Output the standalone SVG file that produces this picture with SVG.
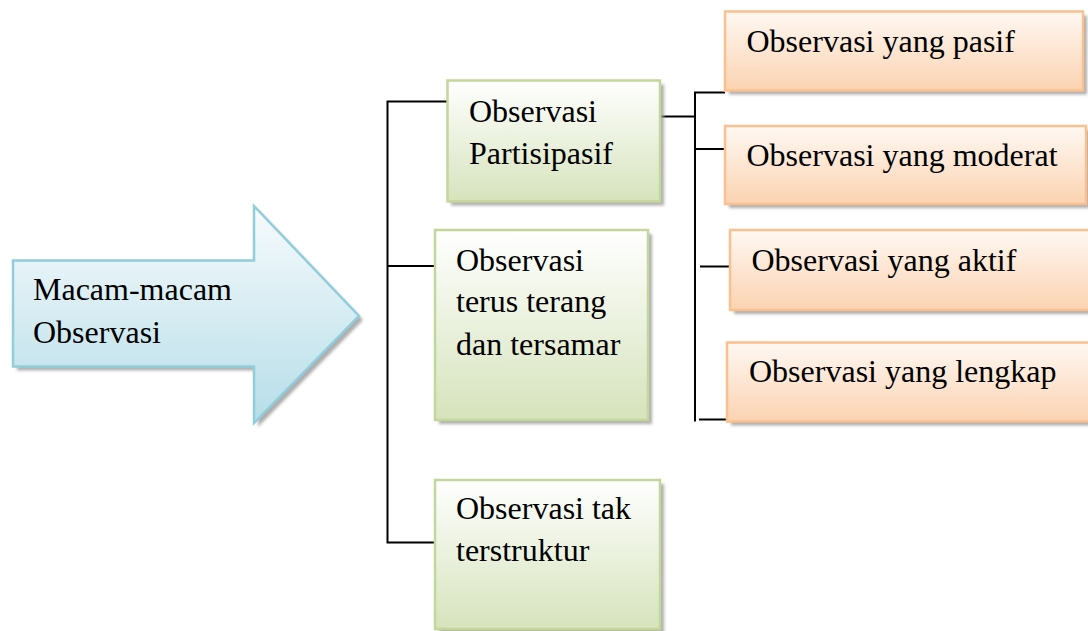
<svg xmlns="http://www.w3.org/2000/svg" width="1088" height="631" viewBox="0 0 1088 631">
<defs>
<linearGradient id="gBlue" x1="0" y1="0" x2="0" y2="1">
<stop offset="0" stop-color="#f7fbfd"/>
<stop offset="1" stop-color="#b6dde8"/>
</linearGradient>
<linearGradient id="gGreen" x1="0" y1="0" x2="0" y2="1">
<stop offset="0" stop-color="#ffffff"/>
<stop offset="1" stop-color="#d6e3bc"/>
</linearGradient>
<linearGradient id="gOrange" x1="0" y1="0" x2="0" y2="1">
<stop offset="0" stop-color="#fff8f3"/>
<stop offset="1" stop-color="#fbd3b1"/>
</linearGradient>
<filter id="blur" x="-10%" y="-10%" width="120%" height="120%">
<feGaussianBlur stdDeviation="1.5"/>
</filter>
</defs>
<style>
text{font-family:"Liberation Serif","Times New Roman",serif;font-size:32px;fill:#000}
.conn{stroke:#000;stroke-width:2;fill:none}
.shadow{fill:#9a9a9a;opacity:0.8;filter:url(#blur)}
.green{fill:url(#gGreen);stroke:#c3d69b;stroke-width:2.5}
.orange{fill:url(#gOrange);stroke:#fac08f;stroke-width:2.5}
.blue{fill:url(#gBlue);stroke:#92cddc;stroke-width:2.5}
</style>
<rect width="1088" height="631" fill="#ffffff"/>

<g id="connectors">
<polyline class="conn" points="447,101.5 387.5,101.5 387.5,542.5 435,542.5"/>
<line class="conn" x1="387.5" y1="266" x2="435" y2="266"/>
<polyline class="conn" points="725,92.5 695,92.5 695,421.5"/>
<line class="conn" x1="660" y1="116.5" x2="695" y2="116.5"/>
<line class="conn" x1="695" y1="149" x2="725" y2="149"/>
<line class="conn" x1="700" y1="266.5" x2="730" y2="266.5"/>
<line class="conn" x1="699" y1="419.5" x2="727" y2="419.5"/>
</g>

<g id="node-macam">
<path class="shadow" d="M17,264.5 L258,264.5 L258,210 L363,320 L258,427 L258,370.5 L17,370.5 Z"/>
<path class="blue" d="M13,260.5 L254,260.5 L254,206 L359,316 L254,423 L254,366.5 L13,366.5 Z"/>
<text x="33" y="300">Macam-macam</text>
<text x="33" y="343">Observasi</text>
</g>

<g id="node-partisipasif">
<rect class="shadow" x="451" y="84.5" width="213" height="121"/>
<rect class="green" x="447.5" y="80.5" width="212.5" height="121"/>
<text x="469" y="121.5">Observasi</text>
<text x="469" y="164">Partisipasif</text>
</g>

<g id="node-terus-terang">
<rect class="shadow" x="439" y="234" width="213" height="190"/>
<rect class="green" x="435" y="230" width="213" height="190"/>
<text x="456" y="270.5">Observasi</text>
<text x="456" y="311.5">terus terang</text>
<text x="456" y="355">dan tersamar</text>
</g>

<g id="node-tak-terstruktur">
<rect class="shadow" x="439" y="484" width="225" height="150"/>
<rect class="green" x="435" y="480" width="225" height="149"/>
<text x="456" y="519">Observasi tak</text>
<text x="456" y="560.5">terstruktur</text>
</g>

<g id="node-pasif">
<rect class="shadow" x="729" y="15.5" width="358" height="79"/>
<rect class="orange" x="725" y="11.5" width="358" height="79"/>
<text x="746.5" y="51.5">Observasi yang pasif</text>
</g>

<g id="node-moderat">
<rect class="shadow" x="729" y="130" width="361" height="78"/>
<rect class="orange" x="725" y="126" width="361" height="78"/>
<text x="746.5" y="165.5">Observasi yang moderat</text>
</g>

<g id="node-aktif">
<rect class="shadow" x="734" y="234" width="360" height="80"/>
<rect class="orange" x="730" y="230" width="360" height="80"/>
<text x="751.5" y="270.5">Observasi yang aktif</text>
</g>

<g id="node-lengkap">
<rect class="shadow" x="731" y="346.5" width="365" height="79"/>
<rect class="orange" x="727" y="342.5" width="365" height="79"/>
<text x="749" y="382">Observasi yang lengkap</text>
</g>
</svg>
